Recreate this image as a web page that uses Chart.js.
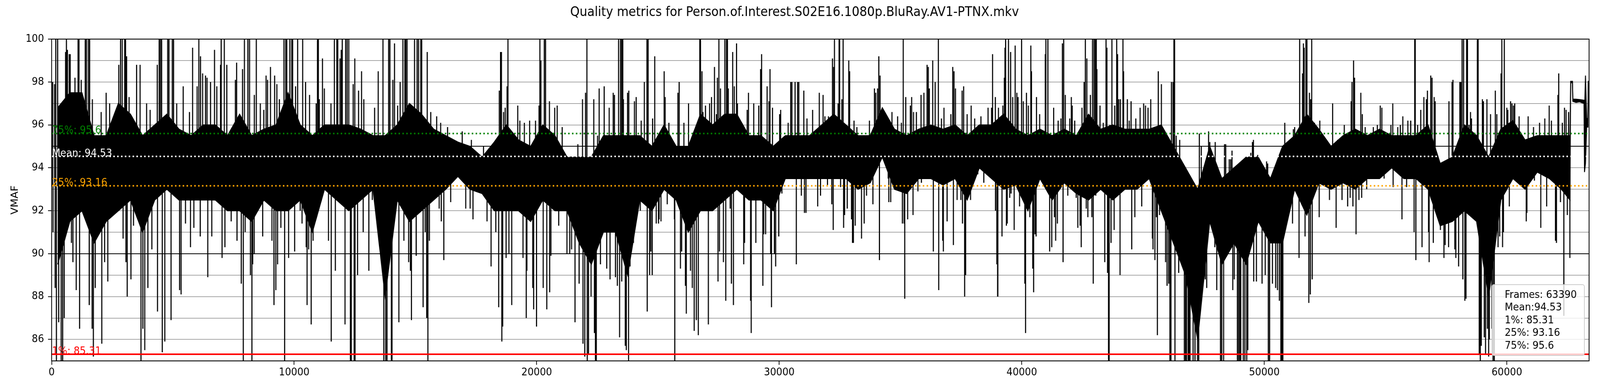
<!DOCTYPE html>
<html><head><meta charset="utf-8">
<script src="https://cdn.jsdelivr.net/npm/chart.js@4.4.1/dist/chart.umd.min.js"></script>
<style>html,body{margin:0;padding:0;background:#fff;overflow:hidden;}canvas{display:block;}</style>
</head><body>
<canvas id="c" width="4400" height="1000"></canvas>
<script>
const titleText = 'Quality metrics for Person.of.Interest.S02E16.1080p.BluRay.AV1-PTNX.mkv';
const yAxisLabel = 'VMAF';
const totalFrames = 63390;
const xTickValues = [0, 10000, 20000, 30000, 40000, 50000, 60000];
const yGridValues = [85, 86, 87, 88, 89, 90, 91, 92, 93, 94, 95, 96, 97, 98, 99, 100];
const statNames = ['75%', 'Mean', '25%', '1%'];
const statValues = [95.6, 94.53, 93.16, 85.31];
const statColors = ['#008000', '#ffffff', '#ffa500', '#ff0000'];
const legendLines = ['Frames: 63390', 'Mean:94.53', '1%: 85.31', '25%: 93.16', '75%: 95.6'];

// dense band of the VMAF trace (per frame window)
const coreFrames = [
250,750,1250,1750,2250,2750,3250,3750,4250,4750,
5250,5750,6250,6750,7250,7750,8250,8750,9250,9750,
10250,10750,11250,11750,12250,12750,13250,13750,14250,14750,
15250,15750,16250,16750,17250,17750,18250,18750,19250,19750,
20250,20750,21250,21750,22250,22750,23250,23750,24250,24750,
25250,25750,26250,26750,27250,27750,28250,28750,29250,29750,
30250,30750,31250,31750,32250,32750,33250,33750,34250,34750,
35250,35750,36250,36750,37250,37750,38250,38750,39250,39750,
40250,40750,41250,41750,42250,42750,43250,43750,44250,44750,
45250,45750,46250,46750,47250,47750,48250,48750,49250,49750,
50250,50750,51250,51750,52250,52750,53250,53750,54250,54750,
55250,55750,56250,56750,57250,57750,58250,58750,59250,59750,
60250,60750,61250,61750,62250,
62600,62630,62705,62720,62850,63000,63180,63200,63240,63290,63340,63356,63390];
const coreLow = [
89.5,91.5,92,90.5,91.5,92,92.5,91,92.5,93,
92.5,92.5,92.5,92.5,92,92,91.5,92.5,92,92,
92.5,91,93,92.5,92,92.5,93,88,92.5,91.5,
92,92.5,93,93.6,93,92.8,92,92,92,91.5,
92.5,92,92,90.5,89.5,91,91,89,92.5,92,
93,92.5,91,92,92,92.5,93,92.5,92.5,92,
93.5,93.5,93.5,93.5,93.5,93.5,93,93.3,94.5,93,
92.8,93.5,93.5,93.2,93.5,92.5,94,93.5,93,93.2,
92,93.5,92.5,93.3,92.8,92.5,93,92.5,93,93,
93.5,92,90.5,89,86,91.5,89.5,90.5,89.5,91.5,
90.5,90.5,93,91.8,93.3,93,93.3,93,93.5,93.5,
94,93.5,93.5,93,91.3,91.5,92,91.5,88,92.5,
93.5,93,93.8,93.5,93,
92.5,97.97,97.97,97.1,97.05,97.08,97.0,93.8,94.2,95.9,95.9,97.97,97.97];
const coreHigh = [
96.8,97.5,97.5,95.5,95.5,97,96.5,95.5,96,96.5,
95.8,95.5,96,96,95.5,96.5,95.5,95.8,96,97.5,
96,95.5,96,96,96,95.8,95.5,95.5,96,97,
96.5,95.8,95.5,95.2,95,94.5,95.2,96,95.3,95,
96,95.5,94.5,94.5,94.5,95.5,95.5,95.5,95.5,95,
96,95,95,96.5,96,96.5,96.5,95.5,95.5,95,
95.5,95.5,95.5,96,96.5,96,95.5,95.5,96.8,95.8,
95.5,95.8,96,95.8,96,95.5,96,96,96.5,95.8,
95.5,95.8,95.5,95.8,95.5,96.5,95.8,96,95.8,95.8,
95.8,96,95,94,93,95,93.5,94,94.5,94.5,
93.5,95,95.5,96.5,95.8,95,95.5,95.8,95.5,95.8,
95.5,95.5,95.5,96,94.2,94.5,96,95.5,94.5,95.8,
96.2,95.3,95.5,95.5,95.5,
95.5,98.03,98.03,97.2,97.2,97.18,97.15,96.5,98.3,96.3,96.3,98.03,98.03];

// isolated excursions of the trace: [frame, VMAF]
const spikes = [
[42,98.0],[57,91.0],[119,97.9],[145,88.4],[171,100],[197,85],[248,100],[290,86.8],[393,85],[455,85],[517,87],[574,99.4],[610,100],[651,99.5],[723,99.3],[765,99.3],[816,90.5],[878,89.6],[961,98.2],[1013,88.3],[1090,100],[1126,100],[1152,86.5],[1219,98.1],[1385,100],[1436,100],[1514,100],[1566,100],[1550,87.6],[1679,97.2],[1669,86.5],[1721,85.2],[1798,88.4],[2041,96.6],[2067,85.8],[2185,89.6],[2247,97.5],[2315,88.7],[2392,97],[2614,96.5],[2640,92],[2769,98.8],[2842,100],[2909,100],[2945,90.7],[3012,100],[3048,100],[3064,89.6],[3090,99.2],[3115,88],[3193,97.3],[3270,88.8],[3332,95.5],[3374,91.3],[3503,98.8],[3647,98.8],[3684,85],[3761,86.5],[3839,85.5],[3916,97],[3968,88.4],[4061,96.7],[4133,90.2],[4355,98.8],[4365,87.3],[4433,100],[4484,100],[4536,100],[4562,85.4],[4665,85.9],[4784,100],[4836,100],[4923,86.9],[4975,100],[5027,100],[5156,97],[5275,88.3],[5337,88.1],[5425,97.8],[5518,91.4],[5683,96.6],[5724,90.3],[5812,99.6],[5864,91.2],[5998,97.8],[6070,100],[6127,90.8],[6137,99.2],[6225,98.4],[6344,98.3],[6406,98.2],[6437,88.9],[6551,98],[6602,90.8],[6716,99.5],[6809,97.8],[6964,98.8],[6990,100],[7026,89.8],[7119,100],[7145,90.3],[7222,98.8],[7403,91.5],
[7576,98.1],[7627,98.9],[7643,90.6],[7819,88.6],[7870,98.6],[7901,85],[7948,100],[7979,91],[8092,100],[8160,100],[8196,89],[8258,85],[8289,89.5],[8356,97.4],[8439,100],[8351,90],[8604,97],[8702,90.8],[8748,96.7],[8841,98.3],[8903,98.1],[9022,98.7],[9084,90.6],[9167,87.6],[9193,98.3],[9244,88.3],[9286,97.9],[9317,89.5],[9389,97.2],[9451,91.2],[9580,100],[9606,85],[9653,100],[9694,100],[9771,89.8],[9823,100],[9901,100],[9937,100],[10019,90.1],[10056,97.8],[10143,100],[10247,92],[10324,91.4],[10350,100],[10469,98],[10495,90.3],[10531,87.6],[10598,90.2],[10634,97.4],[10701,86.7],[10779,90.6],[10908,97],[10960,100],[10996,100],[11037,97.2],[11166,99.1],[11244,97.7],[11414,90.6],[11517,97],[11528,85.9],[11657,100],[11698,89.2],[11760,100],[11796,100],[11889,99.1],[11941,99.5],[11982,100],[12096,86.7],[12122,100],[12184,100],[12251,100],[12318,85],[12354,85],[12432,97.9],[12473,85],[12509,85],[12499,99.1],[12613,89],[12654,97.6],[12778,98.5],[12845,91],[12871,97.2],[13078,89.2],[13222,92.5],[13315,96.8],[13429,92.6],[13465,98.5],[13661,100],[13698,85],[13775,85],[13827,85],[13894,100],[13946,100],[14007,85],[14033,85],[14069,98.1],[14137,99.8],[14266,96.9],[14317,86.8],[14369,98],[14483,100],[14524,90.6],[14565,100],[14601,100],[14653,100],[14720,89.6],[14793,89.2],[14834,86.9],[14963,100],[15030,89.9],[15067,100],[15128,100],[15222,100],[15258,100],[15315,87.5],[15402,91],[15464,87],[15485,99.4],
[15513,85],[15575,90.6],[15632,96.6],[15782,92.9],[15875,96.4],[15978,92.1],[16040,96.1],[16066,91.5],[16169,89.7],[16324,95.9],[16453,92.4],[16929,95.7],[17073,92.1],[17254,92.1],[17306,95.3],[17373,91.6],[17807,95],[17951,91.5],[18117,89.4],[18235,95.1],[18313,91],[18432,87.5],[18458,97.6],[18509,99.4],[18545,99.4],[18561,85.9],[18597,86.6],[18633,96.6],[18700,96.8],[18737,89.8],[18778,97.8],[18814,100],[18855,90],[18969,87.6],[19150,95.3],[19217,96.9],[19305,96.2],[19434,89.8],[19491,96.1],[19568,87],[19594,89.2],[19708,96.2],[19837,88.4],[19873,87.4],[19951,96.2],[19992,86.6],[20095,96.9],[20131,100],[20173,99],[20266,88.4],[20312,100],[20364,100],[20416,87.4],[20524,97.1],[20534,88.2],[20586,89.9],[20741,96.8],[20844,96.9],[20906,91.3],[21051,95.9],[21247,90],[21361,90],[21438,90.2],[21578,86.8],[21697,95.1],[21748,88.6],[21888,97.2],[21908,85.8],[21981,85.2],[22012,97.5],[22069,100],[22084,85],[22136,85.3],[22239,88],[22353,97.2],[22379,86.3],[22420,85],[22456,85],[22508,95.5],[22575,97.7],[22627,89.5],[22782,97.8],[22885,89.3],[22988,96.8],[23024,88.8],[23153,97.5],[23205,97.4],[23246,88.9],[23324,88.5],[23376,100],[23417,86.1],[23458,100],[23505,88.7],
[23507,100],[23548,100],[23574,97.2],[23652,85.7],[23693,85.5],[23745,97.5],[23786,85],[23796,97.6],[23848,89.4],[23987,90.5],[24029,97.1],[24101,97.3],[24272,92],[24308,96.2],[24437,98],[24545,100],[24556,87.3],[24592,100],[24654,89],[24705,90.1],[24762,89],[24778,96.3],[24866,99.2],[24928,91.4],[25021,91.4],[25046,91.6],[25124,91.5],[25253,98.5],[25294,97.3],[25382,92.3],[25449,96.1],[25625,92.9],[25677,91.6],[25692,85],[25821,97.5],[25873,98],[25925,89.3],[25976,90.1],[26069,96.1],[26131,88.5],[26167,87.2],[26260,97],[26338,89.2],[26415,88.4],[26493,86.4],[26545,95.5],[26581,86.9],[26663,86.2],[26725,100],[26751,100],[26813,98.5],[26855,96.6],[26958,96.9],[27077,86.7],[27128,97],[27206,97.3],[27330,98.7],[27412,96.5],[27449,98.2],[27474,88.7],[27511,100],[27536,90.1],[27578,97.7],[27697,89.6],[27759,100],[27795,87.8],[27826,100],[27862,100],[27898,97.7],[27976,92.1],[28027,88.6],[28079,99.4],[28110,87.6],[28146,97.8],[28239,99.8],[28275,97],[28534,89.5],[28570,90.5],[28678,96.7],[28730,97.5],[28818,87.8],[28844,86.3],[28947,97],[29035,90.5],[29154,96.9],[29231,98.6],[29272,99.3],[29324,88.5],[29360,90.9],[29438,90.9],[29500,97.8],[29577,97.1],[29618,98.6],[29644,90],[29680,87.5],[29722,96.8],[29799,90],[29851,89.4],[29980,90.8],[30016,96.5],[30057,96.7],[30109,92.8],[30367,96.1],[30471,98],[30522,98],[30652,98],[30703,89.5],[30755,98],[30807,98],[30910,92.7],[31013,97.6],[31039,91.9],[31101,91.9],[31142,96.3],[31375,96.7],[31478,93.5],
[31584,92.2],[31651,97.5],[31702,92.7],[31806,97.4],[31883,96.4],[31987,93.2],[32028,96.4],[32167,92.3],[32193,99.1],[32224,91.1],[32245,98.7],[32276,100],[32426,97],[32467,100],[32488,100],[32529,93.1],[32581,97.2],[32632,100],[32653,91.2],[32694,91.8],[32803,92.1],[32865,99],[32901,98.5],[32978,91.6],[33020,90.5],[33056,90.5],[33082,96.2],[33133,91.3],[33201,95.9],[33392,90.7],[33500,91.4],[33598,92.7],[33717,96.2],[33862,92.3],[33924,97.7],[33976,97.5],[34053,97.7],[34105,99.2],[34130,89.7],[34156,98.3],[34363,96.3],[34492,93.5],[34518,92.4],[34595,92.4],[34647,96.6],[34880,96.4],[35035,96.1],[35076,91.4],[35112,100],[35148,91.4],[35174,87.9],[35215,97.3],[35293,91.6],[35406,96.9],[35458,97.3],[35515,91.8],[35536,96.6],[35654,96.6],[35716,92.9],[35846,97.4],[35861,93.3],[35964,97.5],[36094,98.8],[36145,98.7],[36187,97.7],[36326,99],[36352,90.1],[36429,98],[36559,100],[36574,88.3],[36688,96.3],[36739,90.6],[36765,90.1],[36791,96.8],[36920,91.5],[37075,96.5],[37153,98.7],[37179,90.4],[37204,98.5],[37266,97.7],[37333,92.5],[37488,92.5],[37540,97.6],[37555,91.4],[37602,97.8],[37643,88],[37685,89],[37747,96.5],[37886,92.5],[37912,96.9],[38057,96.3],[38186,93.7],[38315,96.4],[38434,93.3],[38506,95.9],[38609,96.8],[38677,93.6],[38754,96.8],[38795,99.3],[38909,97.3],[38914,92],[38971,89.5],[39002,88],[39012,88],[39038,96.8],[39183,90.8],[39219,96.9],[39281,98.2],[39307,99.6],[39333,100],[39364,91.3],[39400,91.4],[39451,100],[39503,92.6],[39539,99.4],
[39557,92.8],[39624,97.3],[39686,91.1],[39727,99.7],[39795,97.5],[39846,97.3],[39908,92.2],[39991,100],[40001,92.7],[40063,97.1],[40125,88.6],[40156,86.3],[40192,97.5],[40270,96.9],[40332,91.7],[40373,99.7],[40399,98.5],[40451,89.3],[40487,88.2],[40544,90.9],[40590,90.8],[40606,97.3],[40735,96.5],[40968,99.3],[40993,100],[41076,100],[41148,90.1],[41236,90.3],[41313,96.8],[41344,91.7],[41396,90.6],[41468,91.4],[41499,96.2],[41613,96.3],[41675,99.8],[41701,89.6],[41727,100],[41794,97.4],[41897,92.7],[41975,96.3],[42042,97.3],[42078,96.9],[42181,96.2],[42243,92.6],[42310,91.2],[42403,91.3],[42450,90.3],[42481,96.8],[42569,98],[42620,100],[42657,92.1],[42682,99.1],[42724,91.7],[42827,97.4],[42889,91.7],[42915,100],[42946,88.6],[42977,100],[43029,100],[43049,92.7],[43070,100],[43096,98.6],[43225,96.9],[43359,96.1],[43421,89.6],[43473,100],[43509,99.6],[43535,89.1],[43576,85],[43602,85],[43628,96],[43679,90.5],[43715,100],[43808,91.1],[43834,96.9],[43912,100],[43948,99.3],[44000,97.2],[44051,89],[44067,97.2],[44170,100],[44196,98.5],[44351,97.2],[44429,96.2],[44506,97.1],[44532,90.2],[44661,91.7],[44702,96.3],[44878,96.8],[44945,92.2],[45023,97],[45100,96.9],[45204,96.8],[45317,97.2],[45384,90.7],[45410,90.2],[45488,89.7],[45550,91.7],[45591,86.2],[45627,98.5],[45679,91.8],[45756,97.9],[45927,89.6],[45989,88.5],[46056,88.6],[46107,85],[46149,85],[46170,98],[46237,98],[46273,100],[46299,100],[46314,85],[46366,95.5],[46469,89.1],[46510,95.3],[46547,89.6],[46702,85],[46753,85],[46789,85],[46857,85],[46893,85],[46934,85],[47063,85],[47141,85],[47244,85],[47296,85],[47321,95.6],[47399,95],[47476,88.8],[47538,93.6],[47564,88.8],
[47623,88.4],[47701,95.7],[47752,95.2],[47907,91.4],[47959,90.3],[47975,95.2],[48037,88.3],[48166,92.9],[48192,85],[48243,85],[48321,85],[48357,95.1],[48409,95.1],[48476,90],[48553,94.4],[48615,94.4],[48667,94.8],[48698,88.3],[48760,88.8],[48889,85],[48941,85],[48992,85],[49028,85],[49070,93.1],[49132,85],[49199,85],[49276,85],[49318,85.5],[49380,94.3],[49442,94.7],[49509,95.2],[49550,95.3],[49561,88.7],[49612,94.4],[49674,88.7],[49726,94.6],[49907,88.6],[50036,89],[50093,94.3],[50139,94.2],[50165,85],[50217,85],[50335,88.6],[50465,88.4],[50542,88.3],[50620,87.8],[50682,85],[50723,85],[50764,85],[50842,96.1],[50930,95.2],[50992,95],[51085,92.5],[51162,91.4],[51198,95.8],[51250,95.9],[51353,95.5],[51431,89.8],[51457,100],[51575,98.4],[51611,99.8],[51642,99.6],[51679,90.8],[51715,100],[51756,100],[51834,87.7],[51859,97.5],[51896,88.1],[51911,97.2],[51952,100],[51973,88.8],[52066,96.1],[52262,91.7],[52288,96.2],[52686,92.5],[52815,97],[52960,91.2],[53022,95.3],[53203,92.5],[53296,96],[53435,92.2],[53538,92.6],[53580,97.1],[53616,98],[53652,92.2],[53678,99],[53719,98.2],[53781,90.9],[53900,92.5],[53978,97.5],[54014,92.6],[54040,96.5],[54158,95.9],[54220,93],[54494,95.9],[54659,96],[54778,96.9],[54845,96.8],[54938,93.5],[55217,96],[55295,97],[55310,93.1],[55501,95.9],
[55607,96],[55674,91.6],[55710,96.4],[55865,93.1],[55917,96.2],[56036,96.2],[56175,91],[56201,100],[56222,100],[56248,89.7],[56320,96],[56449,96.7],[56501,90.3],[56578,97.3],[56682,97.2],[56723,97.6],[56769,91],[56795,89.6],[56862,98.3],[56914,98.2],[56966,90.5],[57002,97.3],[57043,97.1],[57260,91.1],[57327,91.4],[57405,89.8],[57456,90.4],[57596,90.3],[57611,97.1],[57741,98],[57777,98.1],[57854,90.2],[57896,89.8],[58009,89.4],[58061,98],[58102,98],[58154,100],[58185,88.8],[58216,100],[58267,87.8],[58314,87.9],[58340,100],[58376,100],[58438,96],[58500,96.6],[58541,96.3],[58634,91.9],[58722,92],[58784,100],[58815,100],[58861,85.3],[58903,85],[58944,85.7],[58991,97.2],[59032,97.1],[59068,86.1],[59120,85.3],[59177,97.2],[59197,86.5],[59249,85.2],[59275,86],[59326,96.5],[59378,86.5],[59430,85],[59481,85],[59523,97.6],[59585,96.5],[59637,90.3],[59704,90.8],[59760,98.4],[59791,100],[59822,90.3],[59859,91],[59895,100],[59998,96.8],[60039,96.7],[60101,92.2],[60153,97.1],[60210,97],[60272,96.9],[60324,97],[60375,93.9],[60504,96.4],[60634,93.1],[60799,91.5],[60825,91.9],[60876,96.4],[61098,95.9],[61135,93.4],[61347,96.1],[61398,91.2],[61563,96.3],[61641,92.2],[61744,96.9],[61837,96.2],[62003,90.6],[62044,90.5],[62106,97.4],[62137,98.4],[62209,92.4],[62287,96.1],[62349,87.1],[62375,96.8],[62442,96.7],[62493,91.8],[62545,96.6],[62597,89.8]
];

Chart.defaults.font.family = '"DejaVu Sans", sans-serif';
Chart.defaults.color = '#000';

function coreMidAt(f) {
  if (f <= coreFrames[0]) return (coreLow[0] + coreHigh[0]) / 2;
  for (let i = 1; i < coreFrames.length; i++) {
    if (f <= coreFrames[i]) {
      const t = (f - coreFrames[i - 1]) / (coreFrames[i] - coreFrames[i - 1]);
      const m0 = (coreLow[i - 1] + coreHigh[i - 1]) / 2, m1 = (coreLow[i] + coreHigh[i]) / 2;
      return m0 + (m1 - m0) * t;
    }
  }
  const n = coreFrames.length - 1;
  return (coreLow[n] + coreHigh[n]) / 2;
}

const spikePoints = [];
spikes.forEach(([f, v]) => {
  spikePoints.push({ x: f, y: coreMidAt(f) }, { x: f, y: v }, { x: f, y: null });
});

const statDatasets = statValues.map((v, i) => ({
  data: [{ x: 0, y: v }, { x: totalFrames, y: v }],
  borderColor: statColors[i],
  borderWidth: 4,
  borderDash: statNames[i] === '1%' ? [] : [4, 6.6],
  borderCapStyle: 'butt',
  order: 0
}));

const overlay = {
  id: 'overlay',
  afterDatasetsDraw(chart) {
    const { ctx, chartArea: a, scales: { y } } = chart;
    ctx.save();
    ctx.font = '26.5px "DejaVu Sans"';
    ctx.textAlign = 'left';
    ctx.textBaseline = 'alphabetic';
    statNames.forEach((n, i) => {
      ctx.fillStyle = statColors[i];
      ctx.fillText(n + ': ' + statValues[i], a.left + 1, y.getPixelForValue(statValues[i]));
    });
    ctx.strokeStyle = '#000';
    ctx.lineWidth = 2.2;
    ctx.strokeRect(a.left, a.top, a.right - a.left, a.bottom - a.top);
    ctx.restore();
  },
  afterDraw(chart) {
    const { ctx, chartArea: a } = chart;
    const w = 254, h = 181, r = 5;
    const bx = a.right - 13 - w, by = a.bottom - 14 - h;
    ctx.save();
    ctx.beginPath();
    ctx.moveTo(bx + r, by);
    ctx.lineTo(bx + w - r, by);
    ctx.arcTo(bx + w, by, bx + w, by + r, r);
    ctx.lineTo(bx + w, by + h - r);
    ctx.arcTo(bx + w, by + h, bx + w - r, by + h, r);
    ctx.lineTo(bx + r, by + h);
    ctx.arcTo(bx, by + h, bx, by + h - r, r);
    ctx.lineTo(bx, by + r);
    ctx.arcTo(bx, by, bx + r, by, r);
    ctx.closePath();
    ctx.fillStyle = 'rgba(255,255,255,0.8)';
    ctx.fill();
    ctx.strokeStyle = '#cccccc';
    ctx.lineWidth = 2;
    ctx.stroke();
    ctx.fillStyle = '#000';
    ctx.font = '26.5px "DejaVu Sans"';
    ctx.textAlign = 'left';
    ctx.textBaseline = 'alphabetic';
    legendLines.forEach((t, i) => ctx.fillText(t, bx + 35, by + 33.7 + 32.5 * i));
    ctx.restore();
  }
};

const chart = new Chart(document.getElementById('c'), {
  type: 'line',
  data: {
    datasets: [
      ...statDatasets,
      { data: spikePoints, borderColor: '#000', borderWidth: 3, spanGaps: false, order: 2 },
      { data: coreFrames.map((f, i) => ({ x: f, y: coreHigh[i] })), borderColor: '#000', borderWidth: 2.5, backgroundColor: '#000', fill: '+1', order: 3 },
      { data: coreFrames.map((f, i) => ({ x: f, y: coreLow[i] })), borderColor: '#000', borderWidth: 2.5, order: 3 }
    ]
  },
  options: {
    responsive: false,
    animation: false,
    devicePixelRatio: 1,
    events: [],
    layout: { padding: { left: 0, right: 30, top: 0, bottom: 0 } },
    elements: { point: { radius: 0, hoverRadius: 0 }, line: { tension: 0 } },
    plugins: {
      legend: { display: false },
      tooltip: { enabled: false },
      title: { display: true, text: titleText, color: '#000', font: { size: 33, weight: 'normal' }, padding: { top: 12.7, bottom: 47.7 } }
    },
    scales: {
      x: {
        type: 'linear', min: 0, max: totalFrames,
        afterBuildTicks: (ax) => { ax.ticks = xTickValues.map(v => ({ value: v })); },
        afterFit: (s) => { s.height = 77; },
        grid: { drawOnChartArea: false, drawTicks: true, tickLength: 10, tickColor: '#000', tickWidth: 2 },
        border: { display: false },
        ticks: { font: { size: 26.5 }, color: '#000', padding: 4, maxRotation: 0, autoSkip: false, callback: (v) => String(v) }
      },
      y: {
        type: 'linear', min: 85, max: 100,
        afterBuildTicks: (ax) => { ax.ticks = yGridValues.map(v => ({ value: v })); },
        afterFit: (s) => { s.width = 142; },
        grid: {
          color: (c) => (c.tick && c.tick.value % 5 === 0) ? '#000' : '#8c8c8c',
          lineWidth: (c) => (c.tick && c.tick.value % 5 === 0) ? 2 : 1.5,
          tickLength: 10,
          tickColor: (c) => (c.tick && c.tick.value % 2 === 0) ? '#000' : 'rgba(0,0,0,0)',
          tickWidth: 2
        },
        border: { display: false },
        ticks: { font: { size: 26.5 }, color: '#000', padding: 11, autoSkip: false, callback: (v) => (v % 2 === 0 ? String(v) : '') },
        title: { display: true, text: yAxisLabel, color: '#000', font: { size: 26.5 }, padding: { top: 26, bottom: 0 } }
      }
    }
  },
  plugins: [overlay]
});
chart.canvas.style.width = '100vw';
chart.canvas.style.height = '100vh';
</script>
</body></html>
